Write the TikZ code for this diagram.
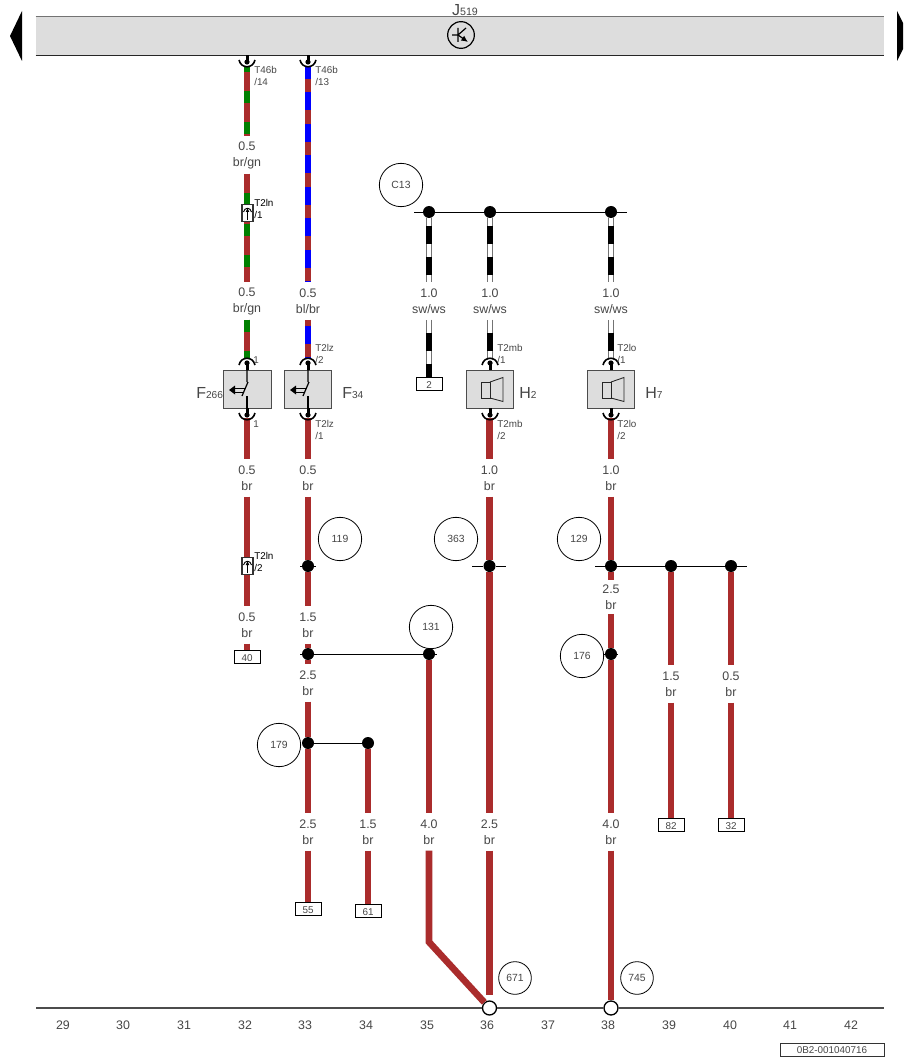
\documentclass[tikz,border=0pt]{standalone}
\usepackage{fontspec}
\setmainfont{Liberation Sans}
\usetikzlibrary{arrows.meta}
\definecolor{wbr}{RGB}{170,44,44}
\definecolor{wgn}{RGB}{0,128,0}
\definecolor{wbl}{RGB}{0,0,255}
\definecolor{txt}{RGB}{70,70,70}
\definecolor{boxgray}{RGB}{221,221,221}
\tikzset{
    wire/.style={line width=4.4pt, color=wbr},
    wirefat/.style={line width=5pt, color=wbr},
    wiregn/.style={wire, postaction={draw=wgn, line width=4.4pt, dash pattern=on 9pt off 14.25pt, dash phase=#1}},
    wirebl/.style={wire, postaction={draw=wbl, line width=4.4pt, dash pattern=on 13.5pt off 10.1pt, dash phase=#1}},
    wiresw/.style={line width=5.2pt, color=black!55, postaction={draw=white, line width=3.4pt},
        postaction={draw=black, line width=5.2pt, dash pattern=on 13.5pt off 9.75pt, dash phase=#1}},
    wirelabel/.style={align=center, inner sep=0pt, minimum height=27.5pt, minimum width=24pt,
        font=\fontsize{9.3}{12}\selectfont, text=txt},
    pinlabel/.style={align=left, anchor=west, inner sep=0pt, font=\fontsize{7.4}{9}\selectfont, text=txt},
    dot/.style={circle, fill=black, inner sep=0pt, minimum size=9pt},
    ground/.style={circle, draw=black, fill=white, line width=1pt, inner sep=0pt, minimum size=10.5pt},
    callout/.style={circle, draw=black, line width=.6pt, inner sep=0pt, minimum size=32.5pt, text=txt,
        font=\fontsize{7.8}{9}\selectfont},
    calloutsm/.style={callout, minimum size=24.5pt},
    term/.style={rectangle, draw=black, fill=white, line width=.7pt, inner sep=0pt, minimum width=19.5pt,
        minimum height=9.5pt, text height=7pt, text depth=0pt, text=txt, font=\fontsize{7.4}{8}\selectfont},
    part/.style={rectangle, draw=black!70, fill=boxgray, line width=.7pt, inner sep=0pt, minimum width=35.5pt,
        minimum height=28.5pt},
    bus/.style={line width=.8pt, color=black!70},
    tap/.style={line width=.7pt, color=black},
    partname/.style={anchor=west, inner sep=0pt, text=txt, font=\fontsize{12}{13}\selectfont},
    colnum/.style={inner sep=0pt, text=txt, font=\fontsize{9.3}{10}\selectfont},
    pics/socket/.style={code={
        \fill[black] (-1.5,0) rectangle (1.5,8);
        \fill[black] (0,7) circle (2.6);
        \draw[black, line width=1.2pt] (-8,5) .. controls (-6,14) and (6,14) .. (8,5);
    }},
    pics/inline/.style={code={
        \draw[black!80, fill=white, line width=.8pt] (-5.5,-8.5) rectangle (5.5,8.5);
        \draw[black, line width=.7pt] (-4,-1) .. controls (-3,-6) and (3,-6) .. (4,-1);
        \draw[black, line width=.7pt, -{Latex[length=3pt,width=3pt]}] (0,7) -- (0,-5);
    }},
    pics/switchsym/.style={code={
        \draw[black, line width=.9pt] (0,-19) -- (0,-7) (1,-7) -- (-5,7);
        \draw[black, line width=.9pt] (0,7) -- (0,19);
        \fill[black] (-18,1) -- (-12,-3.5) -- (-12,5.5) -- cycle;
        \draw[black, line width=.7pt] (-12,-1) -- (-2,-1) (-12,3) -- (-3,3);
    }},
    pics/speaker/.style={code={
        \draw[black!85, line width=.65pt] (-9,-7) rectangle (0,9);
        \draw[black!85, line width=.65pt] (0,-7) -- (13,-11.5) -- (13,12.5) -- (0,9);
    }},
}
\begin{document}
\begin{tikzpicture}[x=.75pt, y=-.75pt]
    \useasboundingbox (0,0) rectangle (903,1059);

    % top bar and page arrows
    \node[rectangle, fill=boxgray, inner sep=0pt, minimum width=636pt, minimum height=28.5pt] (bar) at (460,36) {};
    \draw[black!55, line width=.8pt] (bar.north west) -- (bar.north east);
    \draw[black!85, line width=.8pt] (bar.south west) -- (bar.south east);
    \node[inner sep=0pt, text=txt] (j519) at (465,10) {\fontsize{12}{13}\selectfont J\fontsize{8}{13}\selectfont 519};
    \node[circle, draw=black, line width=.9pt, inner sep=0pt, minimum size=20pt] (tr) at (461,35) {};
    \draw[black, line width=.9pt] (452,35) -- (458,35) (458,28) -- (458,42) (458,35) -- (466,28);
    \draw[black, line width=.9pt, -{Latex[length=5pt,width=4.5pt]}] (458,35) -- (468,42);
    \fill[black] (10,36) -- (22,11) -- (22,61) -- cycle;
    \fill[black] (897,11) -- (903,23) -- (903,49) -- (897,61) -- cycle;

    % parts
    \node[part] (f266) at (247.5,389) {};
    \node[part] (f34) at (308,389) {};
    \node[part] (h2) at (490,389) {};
    \node[part] (h7) at (611,389) {};
    \pic at (247,389) {switchsym};
    \pic at (308,389) {switchsym};
    \pic at (490,389) {speaker};
    \pic at (611,389) {speaker};
    \node[partname] (f266name) at (196,393) {F\fontsize{7.6}{13}\selectfont 266};
    \node[partname] (f34name) at (342,393) {F\fontsize{7.6}{13}\selectfont 34};
    \node[partname] (h2name) at (519,393) {H\fontsize{7.6}{13}\selectfont 2};
    \node[partname] (h7name) at (645,393) {H\fontsize{7.6}{13}\selectfont 7};

    % junctions
    \node[dot] (c13a) at (429,212) {};
    \node[dot] (c13b) at (490,212) {};
    \node[dot] (c13c) at (611,212) {};
    \node[dot] (j119) at (308,566) {};
    \node[dot] (j363) at (489.5,566) {};
    \node[dot] (j129) at (611,566) {};
    \node[dot] (j129b) at (671,566) {};
    \node[dot] (j129c) at (731,566) {};
    \node[dot] (j176) at (611,654) {};
    \node[dot] (j131a) at (308,654) {};
    \node[dot] (j131b) at (429,654) {};
    \node[dot] (j179a) at (308,743) {};
    \node[dot] (j179b) at (368,743) {};
    \node[ground] (g36) at (489.5,1008) {};
    \node[ground] (g38) at (611,1008) {};

    % wire labels
    \node[wirelabel] (l1) at (247,155) {0.5\\br/gn};
    \node[wirelabel] (l2) at (247,301) {0.5\\br/gn};
    \node[wirelabel] (l3) at (308,301) {0.5\\bl/br};
    \node[wirelabel] (l4) at (429,301) {1.0\\sw/ws};
    \node[wirelabel] (l5) at (490,301) {1.0\\sw/ws};
    \node[wirelabel] (l6) at (611,301) {1.0\\sw/ws};
    \node[wirelabel] (l7) at (247,478) {0.5\\br};
    \node[wirelabel] (l8) at (308,478) {0.5\\br};
    \node[wirelabel] (l9) at (489.5,478) {1.0\\br};
    \node[wirelabel] (l10) at (611,478) {1.0\\br};
    \node[wirelabel] (l11) at (247,625) {0.5\\br};
    \node[wirelabel] (l12) at (308,625) {1.5\\br};
    \node[wirelabel, minimum height=25pt] (l13) at (611,597) {2.5\\br};
    \node[wirelabel] (l14) at (308,683) {2.5\\br};
    \node[wirelabel] (l15) at (671,684) {1.5\\br};
    \node[wirelabel] (l16) at (731,684) {0.5\\br};
    \node[wirelabel] (l17) at (308,832) {2.5\\br};
    \node[wirelabel] (l18) at (368,832) {1.5\\br};
    \node[wirelabel] (l19) at (429,832) {4.0\\br};
    \node[wirelabel] (l20) at (489.5,832) {2.5\\br};
    \node[wirelabel] (l21) at (611,832) {4.0\\br};

    % terminals
    \node[term] (t2) at (429,384) {2};
    \node[term] (t40) at (247,657) {40};
    \node[term] (t55) at (308,909) {55};
    \node[term] (t61) at (368,911) {61};
    \node[term] (t82) at (671,825) {82};
    \node[term] (t32) at (731,825) {32};

    % socket ends
    \coordinate (s14) at (247,66);
    \coordinate (s13) at (308,66);
    \coordinate (s1a) at (247,358);
    \coordinate (s2a) at (308,358);
    \coordinate (s3a) at (490,360);
    \coordinate (s4a) at (611,360);
    \coordinate (s1b) at (247,418);
    \coordinate (s2b) at (308,418);
    \coordinate (s3b) at (489.5,418);
    \coordinate (s4b) at (611,418);
    \coordinate (e36) at (489.5,995);
    \coordinate (bend) at (429,942);

    % wires
    \draw[wiregn=4.5pt] (s14) -- (l1);
    \draw[wiregn=9pt] (l1) -- (l2);
    \draw[wiregn=0pt] (l2) -- (s1a);
    \draw[wirebl=3.75pt] (s13) -- (l3);
    \draw[wirebl=19.1pt] (l3) -- (s2a);
    \draw[wiresw=17.25pt] (c13a) -- (l4);
    \draw[wiresw=17.25pt] (c13b) -- (l5);
    \draw[wiresw=17.25pt] (c13c) -- (l6);
    \draw[wiresw=13.5pt] (l4) -- (t2);
    \draw[wiresw=13.5pt] (l5) -- (s3a);
    \draw[wiresw=13.5pt] (l6) -- (s4a);
    \draw[wire] (s1b) -- (l7);
    \draw[wire] (l7) -- (l11);
    \draw[wire] (l11) -- (t40);
    \draw[wire] (s2b) -- (l8);
    \draw[wire] (l8) -- (j119);
    \draw[wire] (j119) -- (l12);
    \draw[wire] (l12) -- (j131a);
    \draw[wire] (j131a) -- (l14);
    \draw[wire] (l14) -- (j179a);
    \draw[wire] (j179a) -- (l17);
    \draw[wire] (l17) -- (t55);
    \draw[wire] (j179b) -- (l18);
    \draw[wire] (l18) -- (t61);
    \draw[wirefat] (j131b) -- (l19);
    \draw[wirefat] (s3b) -- (l9);
    \draw[wirefat] (l9) -- (j363);
    \draw[wirefat] (j363) -- (l20);
    \draw[wirefat] (l20) -- (e36);
    \draw[wirefat] (s4b) -- (l10);
    \draw[wirefat] (l10) -- (j129);
    \draw[wirefat] (j129) -- (l13);
    \draw[wirefat] (l13) -- (j176);
    \draw[wirefat] (j176) -- (l21);
    \draw[wirefat] (l21) -- (g38);
    \draw[wire] (j129b) -- (l15);
    \draw[wire] (l15) -- (t82);
    \draw[wire] (j129c) -- (l16);
    \draw[wire] (l16) -- (t32);
    \draw[white, line width=6.5pt] (bend) -- (g36);
    \draw[wirefat, line join=miter] (l19) -- (bend) -- (g36);

    % sockets and inline plugs
    \pic at (247,55) {socket};
    \pic at (308,55) {socket};
    \pic[rotate=180] at (247,370) {socket};
    \pic[rotate=180] at (308,370) {socket};
    \pic[rotate=180] at (490,370) {socket};
    \pic[rotate=180] at (611,370) {socket};
    \pic at (247,408) {socket};
    \pic at (308,408) {socket};
    \pic at (490,408) {socket};
    \pic at (611,408) {socket};
    \pic at (247.5,213) {inline};
    \pic at (247.5,566) {inline};

    % tap lines
    \coordinate (c13l) at (414,212);
    \coordinate (c13r) at (627,212);
    \draw[tap] (c13l) -- (c13a) (c13a) -- (c13b) (c13b) -- (c13c) (c13c) -- (c13r);
    \coordinate (j119l) at (300,566);
    \coordinate (j119r) at (316,566);
    \draw[tap] (j119l) -- (j119) (j119) -- (j119r);
    \coordinate (j363l) at (472,566);
    \coordinate (j363r) at (506,566);
    \draw[tap] (j363l) -- (j363) (j363) -- (j363r);
    \coordinate (j129l) at (595,566);
    \coordinate (j129r) at (747,566);
    \draw[tap] (j129l) -- (j129) (j129) -- (j129b) (j129b) -- (j129c) (j129c) -- (j129r);
    \coordinate (j131l) at (300,654);
    \coordinate (j131r) at (437,654);
    \draw[tap] (j131l) -- (j131a) (j131a) -- (j131b) (j131b) -- (j131r);
    \draw[tap] (j179a) -- (j179b);
    \coordinate (j176l) at (604,654);
    \coordinate (j176r) at (618,654);
    \draw[tap] (j176l) -- (j176) (j176) -- (j176r);

    % pin labels
    \node[pinlabel] (p1) at (254,76) {T46b\\/14};
    \node[pinlabel] (p2) at (315,76) {T46b\\/13};
    \node[pinlabel, text=black] (p3) at (254,209) {T2ln\\/1};
    \node[pinlabel] (p4) at (315,354) {T2lz\\/2};
    \node[pinlabel] (p5) at (253,360) {1};
    \node[pinlabel] (p6) at (253,424) {1};
    \node[pinlabel] (p7) at (315,430) {T2lz\\/1};
    \node[pinlabel] (p8) at (497,354) {T2mb\\/1};
    \node[pinlabel] (p9) at (497,430) {T2mb\\/2};
    \node[pinlabel] (p10) at (617,354) {T2lo\\/1};
    \node[pinlabel] (p11) at (617,430) {T2lo\\/2};
    \node[pinlabel, text=black] (p12) at (254,562) {T2ln\\/2};

    % callouts
    \node[callout] (n1) at (401,185) {C13};
    \node[callout] (n2) at (340,539) {119};
    \node[callout] (n3) at (456,539) {363};
    \node[callout] (n4) at (579,539) {129};
    \node[callout] (n5) at (431,627) {131};
    \node[callout] (n6) at (582,656) {176};
    \node[callout] (n7) at (279,745) {179};
    \node[calloutsm] (n8) at (515,978) {671};
    \node[calloutsm] (n9) at (637,978) {745};

    % ground bus and column numbers
    \coordinate (busl) at (36,1008);
    \coordinate (busr) at (884,1008);
    \draw[bus] (busl) -- (g36) (g36) -- (g38) (g38) -- (busr);
    \foreach \x/\n in {63/29,123/30,184/31,245/32,305/33,366/34,427/35,487/36,548/37,608/38,669/39,730/40,790/41,851/42}
        \node[colnum] (col\n) at (\x,1025) {\n};
    \node[rectangle, draw=black!80, line width=.6pt, inner sep=0pt, minimum width=78pt, minimum height=9.5pt, text=txt, font=\fontsize{7.4}{8}\selectfont] (code) at (832,1050) {0B2-001040716};
\end{tikzpicture}
\end{document}
